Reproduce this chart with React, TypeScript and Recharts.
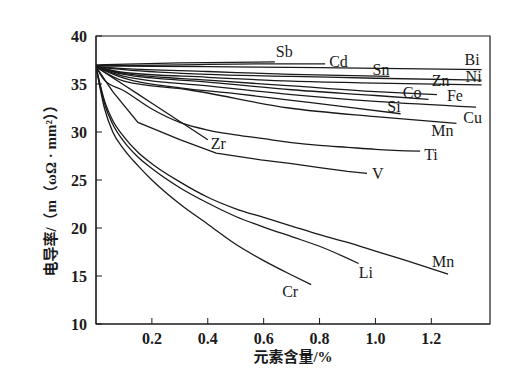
import { LineChart, Line, XAxis, YAxis, ReferenceArea, LabelList } from 'recharts';

// x = 元素含量/%, y = 电导率
const sb = [[0, 37.0], [0.3, 37.2], [0.64, 37.3]];
const cd = [[0, 36.9], [0.3, 37.0], [0.6, 37.1], [0.82, 37.1]];
const bi = [[0, 36.9], [0.4, 36.8], [0.8, 36.7], [1.38, 36.5]];
const sn = [[0, 36.8], [0.1, 36.6], [0.4, 36.3], [0.7, 36.0], [1.05, 35.8]];
const ni = [[0, 36.8], [0.1, 36.5], [0.4, 36.0], [0.7, 35.8], [1.0, 35.6], [1.38, 35.4]];
const zn = [[0, 36.8], [0.1, 36.2], [0.4, 35.7], [0.7, 35.3], [1.0, 35.1], [1.38, 34.9]];
const fe = [[0, 36.8], [0.1, 36.1], [0.4, 35.4], [0.7, 34.8], [1.0, 34.2], [1.22, 33.9]];
const co = [[0, 36.8], [0.1, 36.0], [0.4, 35.2], [0.7, 34.4], [1.0, 33.8], [1.19, 33.4]];
const cu = [[0, 36.8], [0.1, 35.8], [0.4, 34.8], [0.7, 33.9], [1.0, 33.2], [1.36, 32.6]];
const si = [[0, 36.8], [0.1, 35.6], [0.3, 34.6], [0.5, 34.0], [0.7, 33.3], [0.9, 32.6], [1.09, 31.9]];
const mnUp = [[0, 36.8], [0.1, 35.3], [0.33, 34.4], [0.69, 32.5], [1.0, 31.6], [1.29, 30.9]];
const ti = [[0, 36.8], [0.03, 35.4], [0.1, 34.3], [0.2, 32.4], [0.3, 31.0], [0.4, 30.2], [0.5, 29.7], [0.6, 29.3], [0.7, 28.9], [0.8, 28.6], [0.9, 28.4], [1.0, 28.2], [1.16, 28.0]];
const zr = [[0, 36.8], [0.1, 34.9], [0.2, 33.0], [0.3, 31.1], [0.4, 29.2]];
const v = [[0, 36.8], [0.06, 34.2], [0.15, 31.0], [0.2, 30.4], [0.3, 29.2], [0.43, 27.8], [0.59, 27.1], [0.7, 26.7], [0.8, 26.3], [0.9, 25.9], [0.97, 25.7]];
const mnLow = [[0, 36.8], [0.03, 33.3], [0.06, 31.2], [0.1, 29.5], [0.15, 27.9], [0.2, 26.7], [0.3, 24.8], [0.4, 23.2], [0.5, 22.0], [0.6, 21.1], [0.7, 20.2], [0.8, 19.3], [0.9, 18.5], [1.0, 17.6], [1.1, 16.7], [1.26, 15.2]];
const li = [[0, 36.8], [0.03, 33.0], [0.06, 30.8], [0.1, 29.0], [0.15, 27.4], [0.2, 26.2], [0.3, 24.2], [0.4, 22.6], [0.5, 21.2], [0.6, 20.1], [0.7, 19.1], [0.8, 18.1], [0.94, 16.3]];
const cr = [[0, 36.8], [0.03, 32.5], [0.06, 30.0], [0.1, 28.2], [0.15, 26.5], [0.2, 25.0], [0.3, 22.5], [0.4, 20.4], [0.5, 18.3], [0.6, 16.6], [0.7, 15.1], [0.77, 14.1]];

const names = ['Sb', 'Cd', 'Bi', 'Sn', 'Ni', 'Zn', 'Fe', 'Co', 'Cu', 'Si', 'Mn', 'Ti', 'Zr', 'V', 'Mn', 'Li', 'Cr'];
const seriesData = [sb, cd, bi, sn, ni, zn, fe, co, cu, si, mnUp, ti, zr, v, mnLow, li, cr];

const xTicks = [0.2, 0.4, 0.6, 0.8, 1.0, 1.2];
const yTicks = [10, 15, 20, 25, 30, 35, 40];

// label placement relative to the last point: [dx, dy, anchor]
const labelPos: [number, number, string][] = [
  [1, -5, 'start'], [4, 3, 'start'], [-2, -5, 'end'], [0, -1, 'end'], [0, 2, 'end'],
  [-32, 1, 'end'], [10, 6, 'start'], [-7, -1, 'end'], [6, 16, 'end'], [0, -2, 'end'],
  [-3, 13, 'end'], [4, 9, 'start'], [3, 9, 'start'], [5, 6, 'start'], [-16, -7, 'start'],
  [0, 14, 'start'], [-13, 12, 'end'],
];

const serif = '"Liberation Serif", "Noto Sans CJK SC", serif';
const ink = '#1a1a1a';

const endLabel = (name: string, len: number, pos: [number, number, string]) => (p: any) => {
  if (p.index !== len - 1) return <g />;
  const x = p.viewBox?.x ?? p.x;
  const y = p.viewBox?.y ?? p.y;
  return (
    <text x={x + pos[0]} y={y + pos[1]} textAnchor={pos[2]} fontFamily={serif} fontSize={16} fill={ink}>
      {name}
    </text>
  );
};

export default function App() {
  return (
    <div style={{ position: 'absolute', left: 0, top: 0, width: 518, height: 385, background: '#fff' }}>
      <LineChart width={518} height={385} margin={{ top: 36, right: 28, bottom: 31, left: 36 }}>
        <XAxis
          type="number"
          dataKey="x"
          domain={[0, 1.41]}
          ticks={xTicks}
          tickFormatter={(t: number) => t.toFixed(1)}
          tickSize={-6}
          tickMargin={15}
          height={30}
          stroke={ink}
          tick={{ fill: ink, fontFamily: serif, fontSize: 16, fontWeight: 'bold' }}
          allowDataOverflow
          label={{
            content: () => (
              <text x={293} y={357} textAnchor="middle" dominantBaseline="central" fontFamily={serif} fontSize={15} fontWeight="bold" fill={ink}>
                元素含量/%
              </text>
            ),
          }}
        />
        <YAxis
          type="number"
          dataKey="y"
          domain={[10, 40]}
          ticks={yTicks}
          tickSize={-6}
          tickMargin={15}
          width={60}
          stroke={ink}
          tick={{ fill: ink, fontFamily: serif, fontSize: 16, fontWeight: 'bold' }}
          allowDataOverflow
          label={{
            content: () => (
              <text transform="translate(51,187) rotate(-90)" textAnchor="middle" dominantBaseline="central" fontFamily={serif} fontSize={15} fontWeight="bold" fill={ink}>
                电导率/（m（ωΩ · mm²））
              </text>
            ),
          }}
        />
        <ReferenceArea x1={0} x2={1.41} y1={10} y2={40} fill="none" stroke={ink} strokeWidth={1.2} ifOverflow="visible" />
        {seriesData.map((arr, i) => (
          <Line
            key={i}
            data={arr.map(([x, y]) => ({ x, y }))}
            dataKey="y"
            type={names[i] === 'V' ? 'linear' : 'monotone'}
            stroke={ink}
            strokeWidth={1.3}
            dot={false}
            isAnimationActive={false}
          >
            <LabelList dataKey="y" content={endLabel(names[i], arr.length, labelPos[i])} />
          </Line>
        ))}
      </LineChart>
    </div>
  );
}
